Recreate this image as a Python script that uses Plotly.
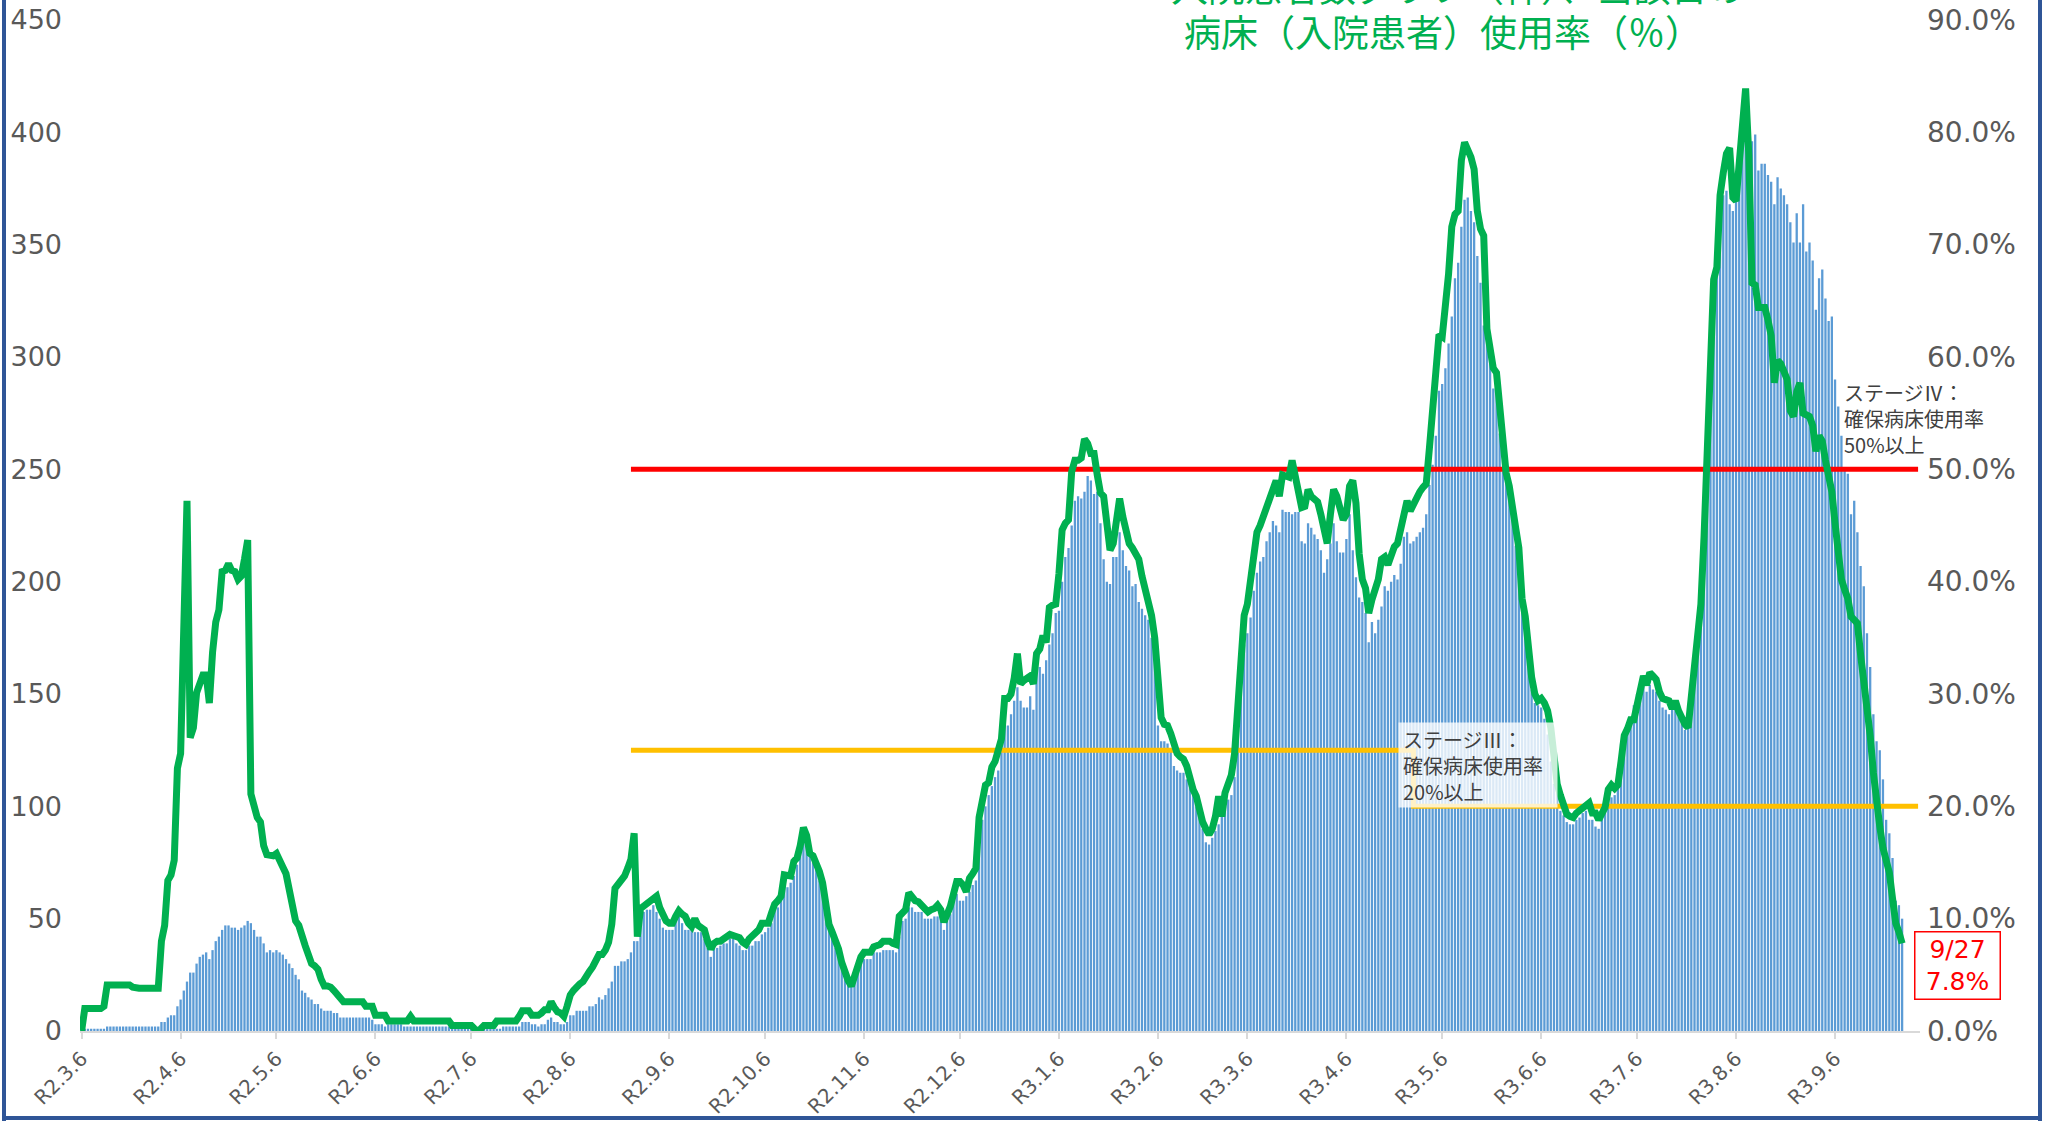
import pandas as pd
import plotly.graph_objects as go

start_date = "2020-03-06"

# daily inpatients (bars, left axis)
inpatients = [
    1, 1, 1, 1, 1, 1, 1, 1, 2, 2,
    2, 2, 2, 2, 2, 2, 2, 2, 2, 2,
    2, 2, 2, 2, 2, 4, 4, 6, 7, 7,
    11, 14, 18, 22, 26, 26, 30, 33, 34, 35,
    32, 36, 40, 42, 45, 47, 47, 46, 46, 45,
    46, 47, 49, 48, 45, 42, 42, 39, 35, 36,
    35, 36, 35, 34, 32, 30, 28, 25, 23, 18,
    17, 15, 14, 12, 12, 10, 9, 9, 9, 8,
    8, 6, 6, 6, 6, 6, 6, 6, 6, 6,
    6, 5, 3, 3, 3, 2, 3, 3, 3, 3,
    3, 2, 2, 2, 2, 2, 2, 2, 2, 2,
    2, 2, 2, 2, 2, 2, 2, 1, 2, 2,
    2, 2, 1, 1, 1, 1, 1, 1, 2, 1,
    1, 1, 2, 2, 2, 2, 2, 2, 4, 4,
    4, 3, 3, 2, 3, 3, 5, 6, 4, 4,
    3, 3, 4, 7, 7, 9, 9, 9, 9, 11,
    11, 12, 15, 14, 16, 19, 22, 29, 29, 31,
    31, 32, 35, 40, 40, 51, 53, 54, 54, 56,
    53, 50, 46, 45, 45, 45, 49, 51, 48, 45,
    45, 46, 44, 44, 44, 41, 37, 33, 37, 37,
    38, 39, 39, 41, 41, 39, 38, 36, 36, 38,
    38, 40, 40, 43, 44, 46, 48, 54, 55, 59,
    64, 64, 66, 69, 74, 81, 86, 82, 80, 75,
    72, 67, 62, 58, 49, 44, 37, 36, 32, 26,
    21, 20, 23, 28, 33, 32, 32, 32, 35, 35,
    35, 36, 36, 36, 36, 35, 42, 49, 50, 55,
    55, 53, 53, 53, 50, 50, 50, 51, 51, 51,
    45, 49, 52, 61, 61, 58, 58, 60, 62, 65,
    67, 83, 94, 100, 105, 109, 113, 116, 139, 138,
    136, 141, 147, 153, 147, 144, 144, 149, 143, 161,
    162, 159, 165, 172, 177, 186, 187, 200, 211, 215,
    225, 236, 238, 237, 240, 247, 245, 239, 240, 226,
    210, 200, 199, 211, 211, 222, 214, 207, 205, 198,
    199, 191, 188, 185, 183, 175, 170, 136, 129, 129,
    128, 125, 118, 116, 115, 115, 112, 110, 105, 100,
    95, 90, 84, 83, 86, 89, 92, 97, 100, 103,
    105, 113, 140, 160, 172, 177, 184, 196, 204, 209,
    211, 218, 222, 227, 225, 222, 232, 231, 231, 230,
    231, 231, 218, 217, 226, 224, 221, 219, 214, 204,
    210, 217, 226, 218, 213, 213, 219, 230, 214, 202,
    193, 191, 186, 173, 182, 177, 183, 189, 198, 196,
    200, 203, 201, 208, 220, 222, 217, 218, 220, 222,
    224, 230, 243, 252, 265, 285, 288, 295, 306, 318,
    335, 342, 358, 370, 371, 365, 360, 345, 333, 314,
    308, 300, 286, 285, 266, 249, 247, 238, 231, 216,
    210, 191, 181, 166, 152, 146, 145, 144, 139, 132,
    120, 110, 106, 98, 96, 93, 92, 92, 94, 95,
    97, 98, 94, 94, 91, 90, 95, 100, 105, 104,
    105, 117, 128, 133, 136, 138, 145, 150, 152, 154,
    151, 154, 152, 151, 147, 144, 143, 141, 143, 144,
    140, 137, 134, 143, 143, 162, 182, 198, 232, 259,
    293, 323, 343, 362, 372, 374, 368, 365, 371, 383,
    393, 396, 394, 396, 399, 383, 386, 386, 381, 378,
    368, 380, 375, 372, 368, 360, 351, 364, 351, 368,
    347, 351, 343, 321, 335, 339, 326, 316, 318, 290,
    278, 265, 251, 248, 230, 236, 222, 207, 198, 177,
    162, 141, 129, 125, 112, 94, 88, 77, 58, 56,
    50,
]

# daily bed usage rate in % (green line, right axis)
usage_rate = [
    0.0, 2.0, 2.0, 2.0, 2.0, 2.0, 2.0, 2.2, 4.1, 4.1,
    4.1, 4.1, 4.1, 4.1, 4.1, 4.1, 3.9, 3.8, 3.8, 3.8,
    3.8, 3.8, 3.8, 3.8, 3.8, 8.0, 9.4, 13.4, 13.9, 15.2,
    23.4, 24.7, 36.0, 47.2, 26.1, 27.0, 30.1, 31.0, 31.7, 31.7,
    29.2, 33.7, 36.4, 37.5, 40.9, 41.0, 41.6, 41.0, 40.9, 40.2,
    40.5, 42.0, 43.7, 21.1, 19.9, 19.0, 18.6, 16.5, 15.7, 15.7,
    15.6, 15.8, 15.0, 14.6, 14.0, 12.5, 11.2, 9.8, 9.4, 8.3,
    7.6, 6.8, 6.0, 5.8, 5.5, 4.6, 4.0, 4.0, 3.9, 3.6,
    3.3, 3.0, 2.6, 2.6, 2.6, 2.6, 2.6, 2.6, 2.6, 2.2,
    2.2, 2.2, 1.4, 1.4, 1.4, 1.4, 0.9, 0.9, 0.9, 0.9,
    0.9, 0.9, 0.9, 1.3, 0.9, 0.9, 0.9, 0.9, 0.9, 0.9,
    0.9, 0.9, 0.9, 0.9, 0.9, 0.9, 0.5, 0.5, 0.5, 0.5,
    0.5, 0.5, 0.5, 0.2, 0.0, 0.2, 0.5, 0.5, 0.5, 0.5,
    0.9, 0.9, 0.9, 0.9, 0.9, 0.9, 0.9, 1.3, 1.8, 1.8,
    1.8, 1.4, 1.4, 1.4, 1.6, 1.9, 1.9, 2.6, 2.1, 1.7,
    1.6, 1.3, 2.2, 3.2, 3.6, 4.0, 4.2, 4.4, 5.0, 5.3,
    5.7, 6.2, 6.8, 6.8, 7.2, 7.9, 9.5, 12.7, 13.1, 13.4,
    13.8, 14.5, 15.3, 17.6, 8.4, 10.9, 11.1, 11.3, 11.6, 11.8,
    12.0, 11.0, 10.4, 9.8, 9.6, 9.6, 10.2, 10.7, 10.4, 10.2,
    9.6, 9.3, 10.0, 9.4, 9.2, 9.0, 8.0, 7.3, 7.8, 8.0,
    8.0, 8.2, 8.4, 8.6, 8.5, 8.4, 8.3, 7.9, 7.7, 8.2,
    8.5, 8.6, 9.0, 9.6, 9.6, 9.6, 10.5, 11.3, 11.6, 12.0,
    13.9, 13.8, 13.8, 15.1, 15.4, 16.5, 18.1, 17.4, 15.8, 15.6,
    15.0, 14.2, 13.2, 11.5, 9.5, 8.8, 8.2, 7.3, 6.1, 5.0,
    4.5, 4.0, 5.0, 5.8, 6.6, 7.0, 7.0, 7.0, 7.5, 7.6,
    7.7, 8.0, 8.0, 8.0, 7.8, 7.7, 10.2, 10.5, 10.8, 12.3,
    11.8, 11.6, 11.5, 11.2, 10.8, 10.6, 10.8, 10.9, 11.2, 10.8,
    9.7, 10.3, 11.1, 12.2, 13.3, 13.3, 13.0, 12.4, 13.6, 14.0,
    14.5, 19.0, 20.3, 21.9, 22.1, 23.5, 24.0, 25.0, 26.0, 29.6,
    29.6, 30.0, 31.4, 33.6, 30.9, 31.2, 31.5, 31.6, 30.9, 33.6,
    34.0, 35.2, 34.6, 37.7, 37.9, 38.0, 40.7, 44.6, 45.2, 45.5,
    49.8, 50.8, 50.8, 51.0, 52.7, 52.3, 51.4, 51.4, 49.5, 47.9,
    47.6, 45.0, 42.8, 43.4, 45.2, 47.4, 45.8, 44.4, 43.4, 43.0,
    42.3, 42.0, 40.5, 39.4, 38.3, 37.0, 35.0, 31.0, 27.9, 27.3,
    27.2, 26.5, 25.5, 24.7, 24.4, 24.2, 23.6, 22.4, 21.5, 20.9,
    19.6, 18.6, 18.0, 17.5, 18.0, 19.1, 20.9, 19.1, 21.2, 22.2,
    22.8, 24.7, 29.5, 34.8, 37.0, 38.0, 40.0, 42.3, 44.4, 45.0,
    45.8, 46.6, 47.7, 48.2, 49.0, 47.6, 49.5, 49.4, 49.3, 50.8,
    49.5, 48.0, 46.6, 46.7, 48.2, 47.6, 47.4, 47.1, 46.0, 44.4,
    43.4, 46.0, 48.2, 47.6, 46.5, 45.5, 46.0, 48.5, 49.0, 47.0,
    42.5, 40.2, 39.4, 37.2, 38.4, 39.5, 40.2, 42.0, 42.2, 41.5,
    42.5, 43.1, 43.4, 44.5, 45.5, 47.2, 46.3, 47.0, 47.4, 48.0,
    48.4, 48.7, 51.9, 55.6, 58.3, 62.0, 61.8, 64.5, 67.4, 71.6,
    72.7, 73.0, 77.5, 79.1, 78.6, 77.8, 76.7, 73.0, 71.4, 70.8,
    62.5, 60.8, 59.0, 58.6, 55.0, 51.9, 49.7, 48.5, 47.0, 44.8,
    43.0, 38.5, 36.9, 34.0, 31.5, 30.0, 29.4, 29.6, 29.2, 28.5,
    27.0, 24.5, 22.0, 21.0, 20.2, 19.3, 19.1, 19.0, 19.4, 19.6,
    19.9, 20.0, 20.3, 19.4, 19.4, 18.8, 19.3, 19.9, 21.5, 21.9,
    21.6, 21.9, 24.0, 26.3, 26.9, 27.7, 27.7, 29.1, 30.5, 31.6,
    30.8, 31.9, 31.6, 31.3, 30.2, 29.6, 29.5, 29.4, 28.7, 29.4,
    28.5, 27.7, 27.3, 27.0, 29.6, 32.0, 34.1, 38.0, 44.1, 51.9,
    59.7, 66.9, 68.0, 74.4, 76.4, 78.1, 78.6, 74.2, 73.9, 77.5,
    81.4, 83.9, 78.0, 66.6, 66.4, 64.4, 64.4, 64.4, 63.3, 61.9,
    57.7, 59.7, 59.4, 58.6, 58.0, 55.2, 54.7, 56.9, 57.7, 55.0,
    54.9, 54.7, 53.9, 51.6, 53.0, 52.5, 50.8, 49.5, 48.0, 45.2,
    41.9, 40.2, 39.3, 38.5, 36.9, 36.6, 36.3, 33.5, 31.3, 29.1,
    26.3, 23.0, 20.2, 18.2, 16.3, 14.9, 14.1, 11.8, 9.6, 8.8,
    7.8,
]

tick_dates = [
    "2020-03-06", "2020-04-06", "2020-05-06", "2020-06-06", "2020-07-06",
    "2020-08-06", "2020-09-06", "2020-10-06", "2020-11-06", "2020-12-06",
    "2021-01-06", "2021-02-06", "2021-03-06", "2021-04-06", "2021-05-06",
    "2021-06-06", "2021-07-06", "2021-08-06", "2021-09-06",
]
tick_labels = [
    "R2.3.6", "R2.4.6", "R2.5.6", "R2.6.6", "R2.7.6", "R2.8.6", "R2.9.6",
    "R2.10.6", "R2.11.6", "R2.12.6", "R3.1.6", "R3.2.6", "R3.3.6", "R3.4.6",
    "R3.5.6", "R3.6.6", "R3.7.6", "R3.8.6", "R3.9.6",
]

# stage threshold lines (right axis, %)
stage4_dates = ["2020-08-25", "2021-10-02"]
stage4_values = [50, 50]
stage3_dates = ["2020-08-25", "2021-04-27", "2021-04-27", "2021-10-02"]
stage3_values = [25, 25, 20, 20]

left_ticks = [0, 50, 100, 150, 200, 250, 300, 350, 400, 450]
right_ticks = [0, 10, 20, 30, 40, 50, 60, 70, 80, 90]
right_tick_labels = ["0.0%", "10.0%", "20.0%", "30.0%", "40.0%",
                     "50.0%", "60.0%", "70.0%", "80.0%", "90.0%"]

title_line1 = "入院患者数グラフ（棒）、当該日の"
title_line2 = "病床（入院患者）使用率（％）"
stage3_text = "ステージⅢ：<br>確保病床使用率<br>20%以上"
stage4_text = "ステージⅣ：<br>確保病床使用率<br>50%以上"

dates = pd.date_range(start_date, periods=len(inpatients), freq="D")
rate_dates = pd.date_range(start_date, periods=len(usage_rate), freq="D")

W, H = 2048, 1121
ML, MR, MT, MB = 80, 128, 20, 90
PW, PH = W - ML - MR, H - MT - MB


def px_x(x):
    return (x - ML) / PW


def px_y(y):
    return (H - MB - y) / PH


GRAY = "#595959"
CJK = "Noto Sans CJK JP"
fig = go.Figure()
fig.add_trace(go.Bar(x=dates, y=inpatients, marker=dict(color="#5B9BD5", line=dict(width=0)),
                     name="入院患者数"))
fig.add_trace(go.Scatter(x=stage4_dates, y=stage4_values, yaxis="y2", mode="lines",
                         line=dict(color="#FF0000", width=5), name="ステージⅣ"))
fig.add_trace(go.Scatter(x=stage3_dates, y=stage3_values, yaxis="y2", mode="lines",
                         line=dict(color="#FFC000", width=5), name="ステージⅢ"))
fig.add_trace(go.Scatter(x=rate_dates, y=usage_rate, yaxis="y2", mode="lines",
                         line=dict(color="#00B050", width=7), name="使用率"))

last = rate_dates[-1]
annotations = [
    dict(text=title_line1, x=px_x(1458), y=px_y(-14), xref="paper", yref="paper",
         xanchor="center", yanchor="middle", showarrow=False,
         font=dict(family=CJK, size=37, color="#00B050")),
    dict(text=title_line2, x=px_x(1443), y=px_y(31), xref="paper", yref="paper",
         xanchor="center", yanchor="middle", showarrow=False,
         font=dict(family=CJK, size=37, color="#00B050")),
    dict(text=stage3_text, x=px_x(1398), y=px_y(722), xref="paper", yref="paper",
         xanchor="left", yanchor="top", align="left", showarrow=False,
         bgcolor="rgba(255,255,255,0.78)", borderpad=4, width=150, height=76,
         font=dict(family=CJK, size=20, color="#404040")),
    dict(text=stage4_text, x=px_x(1842), y=px_y(419), xref="paper", yref="paper",
         xanchor="left", yanchor="middle", align="left", showarrow=False,
         font=dict(family=CJK, size=20, color="#404040")),
    dict(text=f"{last.month}/{last.day}<br>{usage_rate[-1]}%", x=px_x(1958), y=px_y(965),
         xref="paper", yref="paper", xanchor="center", yanchor="middle", showarrow=False,
         bordercolor="#FF0000", borderwidth=1.5, borderpad=1, width=82, height=64,
         font=dict(family="DejaVu Sans", size=25, color="#FF0000")),
]

frame = "#2F5597"
shapes = [
    dict(type="line", xref="paper", yref="paper", x0=px_x(4), x1=px_x(4), y0=px_y(1122), y1=px_y(-2),
         line=dict(color=frame, width=4)),
    dict(type="line", xref="paper", yref="paper", x0=px_x(2040), x1=px_x(2040), y0=px_y(1122), y1=px_y(-2),
         line=dict(color=frame, width=4)),
    dict(type="line", xref="paper", yref="paper", x0=px_x(2), x1=px_x(2042), y0=px_y(1118), y1=px_y(1118),
         line=dict(color=frame, width=4)),
]

fig.update_layout(
    width=W, height=H, autosize=False,
    margin=dict(l=ML, r=MR, t=MT, b=MB),
    plot_bgcolor="white", paper_bgcolor="white",
    showlegend=False, bargap=0.28,
    annotations=annotations, shapes=shapes,
    xaxis=dict(
        type="date", range=["2020-03-05 12:00", "2021-10-02 14:24"],
        tickvals=tick_dates, ticktext=tick_labels, tickangle=-45,
        tickfont=dict(family="DejaVu Sans", size=20, color=GRAY),
        ticks="outside", ticklen=6, tickcolor="#D9D9D9", tickwidth=1.5,
        showline=True, linecolor="#D9D9D9", linewidth=2, showgrid=False, zeroline=False,
        automargin=False,
    ),
    yaxis=dict(
        range=[0, 450], tickvals=left_ticks, showgrid=False, zeroline=False, showline=False,
        tickfont=dict(family="DejaVu Sans", size=27, color=GRAY), ticklabelstandoff=17,
        automargin=False,
    ),
    yaxis2=dict(
        range=[0, 90], tickvals=right_ticks, ticktext=right_tick_labels,
        overlaying="y", side="right", showgrid=False, zeroline=False, showline=False,
        tickfont=dict(family="DejaVu Sans", size=28, color=GRAY), ticklabelstandoff=6,
        automargin=False,
    ),
)

fig.write_html("out.html", config={"displayModeBar": False},
               post_script="document.body.style.margin='0px';")
